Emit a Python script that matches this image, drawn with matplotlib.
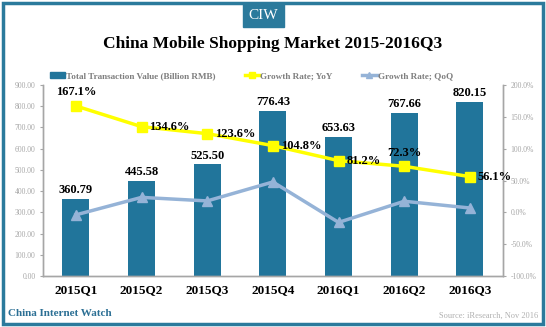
import matplotlib.pyplot as plt
from matplotlib.patches import Rectangle
from matplotlib.lines import Line2D

quarters = ["2015Q1", "2015Q2", "2015Q3", "2015Q4", "2016Q1", "2016Q2", "2016Q3"]
value = [360.79, 445.58, 525.50, 776.43, 653.63, 767.66, 820.15]
yoy = [167.1, 134.6, 123.6, 104.8, 81.2, 72.3, 56.1]
qoq = [-4.0, 23.5, 17.9, 47.7, -15.8, 17.4, 6.8]

BLUE = "#21759b"
FRAME = "#2b7a9c"
YEL = "#ffff00"
QOQ = "#95b3d7"
GRAY = "#a6a6a6"
SERIF = "Liberation Serif"

fig = plt.figure(figsize=(5.46, 3.27), dpi=100)
ax = fig.add_axes([0.0788, 0.156, 0.842, 0.584])
ax2 = ax.twinx()

x = list(range(len(quarters)))
ax.bar(x, value, width=0.41, color=BLUE, zorder=2)
ax.set_xlim(-0.5, 6.5)
ax.set_ylim(0, 900)
ax.set_yticks(range(0, 901, 100))
ax.set_yticklabels([f"{v:.2f}" for v in range(0, 901, 100)])
ax.set_xticks(x)
ax.set_xticklabels(quarters, fontfamily=SERIF, fontweight="bold", fontsize=9.5)
ax.tick_params(axis="x", length=0, pad=6)
ax.tick_params(axis="y", labelsize=5.5, labelcolor=GRAY, color=GRAY, length=2)
for lab in ax.get_yticklabels():
    lab.set_fontfamily(SERIF)

for i, v in enumerate(value):
    ax.text(i, v + 14, f"{v:.2f}", ha="center", va="bottom", fontfamily=SERIF,
            fontweight="bold", fontsize=9)

ax2.plot(x, yoy, color=YEL, lw=2.5, marker="s", ms=7, zorder=3)
ax2.plot(x, qoq, color=QOQ, lw=2.5, marker="^", ms=7, zorder=3)
ax2.set_ylim(-100, 200)
ax2.set_yticks(range(-100, 201, 50))
ax2.set_yticklabels([f"{v:.1f}%" for v in range(-100, 201, 50)])
ax2.tick_params(axis="y", labelsize=5.5, labelcolor=GRAY, color=GRAY, length=2)
for lab in ax2.get_yticklabels():
    lab.set_fontfamily(SERIF)

for a in (ax, ax2):
    a.spines["top"].set_visible(False)
    for s in ("left", "right", "bottom"):
        a.spines[s].set_color(GRAY)
        a.spines[s].set_linewidth(1)

# YoY labels
for i, v in enumerate(yoy):
    if i in (0, 5):
        ax2.text(i, v + 12, f"{v:.1f}%", ha="center", va="bottom", fontfamily=SERIF,
                 fontweight="bold", fontsize=9)
    else:
        ax2.text(i + 0.12, v, f"{v:.1f}%", ha="left", va="center", fontfamily=SERIF,
                 fontweight="bold", fontsize=9)

handles = [Rectangle((0, 0), 1, 1, color=BLUE),
           Line2D([], [], color=YEL, lw=2.5, marker="s", ms=4),
           Line2D([], [], color=QOQ, lw=2.5, marker="^", ms=4)]
labels = ["Total Transaction Value (Billion RMB)", "Growth Rate; YoY", "Growth Rate; QoQ"]
leg = fig.legend(handles, labels, loc="center left", bbox_to_anchor=(0.092, 0.768), ncol=3,
                 frameon=False, prop={"family": SERIF, "weight": "bold", "size": 6.6},
                 handlelength=1.6, handletextpad=0.1, columnspacing=3.2,
                 borderpad=0, borderaxespad=0)
for t in leg.get_texts():
    t.set_color("#7f7f7f")

# title block
fig.text(0.5, 0.866, "China Mobile Shopping Market 2015-2016Q3", ha="center", va="center",
         fontfamily=SERIF, fontweight="bold", fontsize=12.5)
fig.patches.append(Rectangle((243 / 546, 1 - 27 / 327), 41 / 546, 23 / 327,
                             transform=fig.transFigure, color=FRAME, zorder=1))
fig.text(263.5 / 546, 1 - 15.5 / 327, "CIW", ha="center", va="center", color="white",
         fontfamily=SERIF, fontsize=11)

# frame
fig.patches.append(Rectangle((3 / 546, 3 / 327), 540 / 546, 321 / 327, transform=fig.transFigure,
                             fill=False, edgecolor=FRAME, lw=2.5))

fig.text(8 / 546, 1 - 314 / 327, "China Internet Watch", ha="left", va="center",
         color="#2b6f94", fontfamily=SERIF, fontweight="bold", fontsize=8)
fig.text(538 / 546, 1 - 316 / 327, "Source: iResearch, Nov 2016", ha="right", va="center",
         color="#b0b0b0", fontfamily=SERIF, fontsize=6)

fig.savefig("out.png", dpi=100)
